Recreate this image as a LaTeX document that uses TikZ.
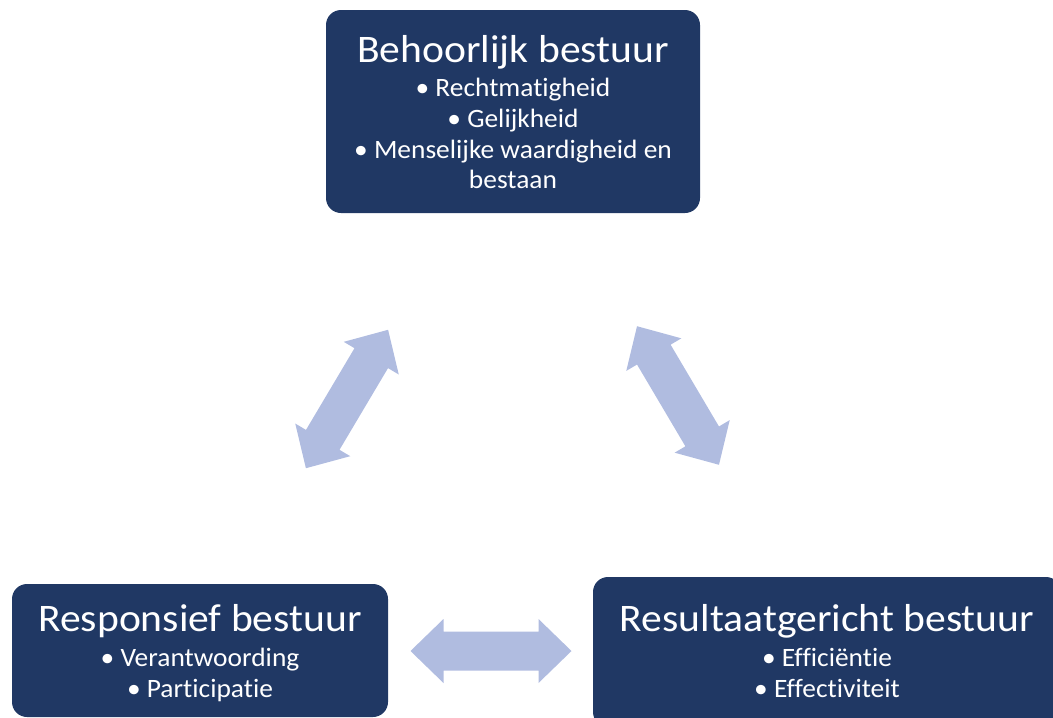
\documentclass[tikz,border=0pt]{standalone}
\usepackage{fontspec}
\setmainfont{Carlito}[Ligatures=NoCommon]
\newfontfamily\titlefont{Carlito}[FakeStretch=1.067,Ligatures=NoCommon]
\newfontfamily\listfont{Carlito}[FakeStretch=1.035,Ligatures=NoCommon]
\definecolor{boxblue}{HTML}{203864}
\definecolor{arrowblue}{HTML}{B0BCE0}
\tikzset{
  box/.style={fill=boxblue, rounded corners=15pt, inner sep=0pt},
  boxtitle/.style={text=white, inner sep=0pt, font=\titlefont\fontsize{39}{42}\selectfont},
  boxlist/.style={text=white, align=center, inner sep=0pt, font=\listfont\fontsize{26.5}{30.7}\selectfont},
  dblarrow/.pic={
    \fill[arrowblue] (-80.5,0) -- (-47.5,32) -- (-47.5,19.5) -- (47.5,19.5) -- (47.5,32)
      -- (80.5,0) -- (47.5,-32) -- (47.5,-19.5) -- (-47.5,-19.5) -- (-47.5,-32) -- cycle;
  }
}
\begin{document}
\begin{tikzpicture}[x=1pt,y=-1pt]
\path[use as bounding box] (0,0) rectangle (1053,718);
\clip (0,0) rectangle (1053,718);
% boxes
\node[box, minimum width=374pt, minimum height=203pt] (top) at (513,111.5) {};
\node[box, minimum width=376pt, minimum height=133pt] (left) at (200,650.5) {};
\node[box, minimum width=468pt, minimum height=150pt] (right) at (827,652) {};
% texts (a list node's base anchor is the baseline of its last line)
\node[boxtitle, anchor=base] (toptitle) at (513,62) {Behoorlijk bestuur};
\node[boxlist, anchor=base] (toplist) at (513,188.8) {• Rechtmatigheid\\• Gelijkheid\\• Menselijke waardigheid en\\bestaan};
\node[boxtitle, anchor=base] (lefttitle) at (200,631) {Responsief bestuur};
\node[boxlist, anchor=base] (leftlist) at (200,697) {• Verantwoording\\• Participatie};
\node[boxtitle, anchor=base] (righttitle) at (827,631.5) {Resultaatgericht bestuur};
\node[boxlist, anchor=base] (rightlist) at (827,697) {• Efficiëntie\\• Effectiviteit};
% arrows
\pic[rotate=59.3] (arrowL) at (347,399) {dblarrow};
\pic[rotate=-59.4] (arrowR) at (678,395.5) {dblarrow};
\pic (arrowB) at (491,651) {dblarrow};
\end{tikzpicture}
\end{document}
